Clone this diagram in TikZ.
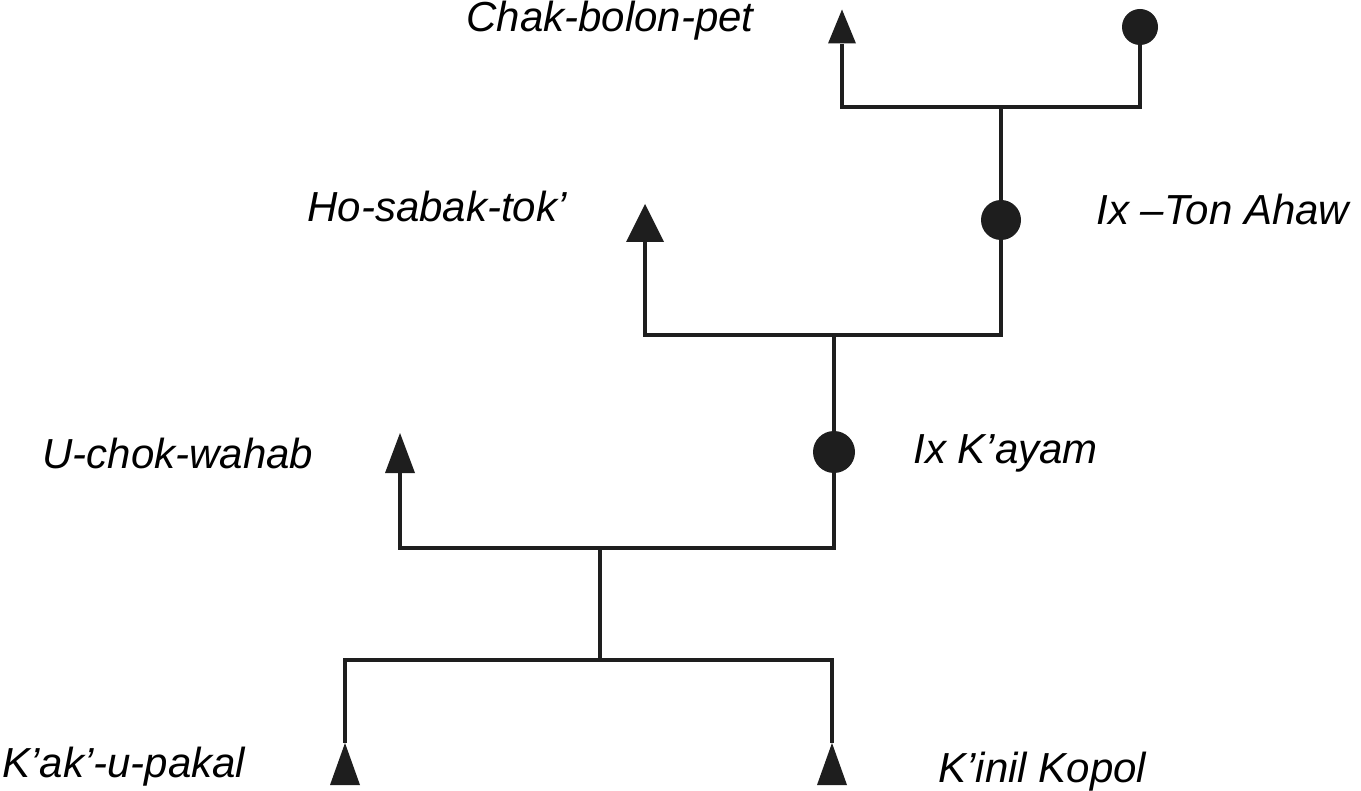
\documentclass[tikz,border=0pt]{standalone}
\usepackage{fontspec}
\setmainfont{Liberation Sans}
\definecolor{ink}{HTML}{1E1E1E}
\begin{document}
\begin{tikzpicture}[x=0.5pt,y=-0.5pt,
  conn/.style={draw=ink, line width=1.6pt, line join=miter},
  tri/.style={rectangle, inner sep=0pt, minimum width=15pt, minimum height=20pt,
    path picture={\fill[ink] (path picture bounding box.south west) -- (path picture bounding box.north) -- (path picture bounding box.south east) -- cycle;}},
  dot/.style={circle, fill=ink, inner sep=0pt, minimum size=20pt},
  lab/.style={anchor=base west, inner sep=0pt, text=black, font=\fontsize{21}{25}\selectfont\itshape}]
\useasboundingbox (0,0) rectangle (1361,791);
% persons
\node[tri, minimum width=14pt, minimum height=17pt] (t1) at (842,26.5) {};
\node[dot, minimum size=18pt] (c1) at (1140,27) {};
\coordinate (j1) at (1001,107);
\node[dot] (c2) at (1001,220) {};
\node[tri, minimum width=19pt, minimum height=19pt] (t2) at (645,223) {};
\coordinate (j2) at (834,335);
\node[dot, minimum size=21pt] (c3) at (834,452) {};
\node[tri] (t3) at (400,453) {};
\coordinate (j3) at (600,548);
\coordinate (j4) at (600,660);
\node[tri, minimum height=21pt] (t4) at (345,764) {};
\node[tri, minimum height=21pt] (t5) at (832,764) {};
% connectors
\draw[conn] (t1) |- (j1) -| (c1);
\draw[conn] (j1) -- (c2);
\draw[conn] (t2) |- (j2) -| (c2);
\draw[conn] (j2) -- (c3);
\draw[conn] (t3) |- (j3) -| (c3);
\draw[conn] (j3) -- (j4);
\draw[conn] (t4) |- (j4) -| (t5);
% labels
\node[lab] (l1) at (466,32) {Chak-bolon-pet};
\node[lab] (l2) at (307,222) {Ho-sabak-tok’};
\node[lab] (l3) at (1096,225) {Ix –Ton Ahaw};
\node[lab] (l4) at (42,468) {U-chok-wahab};
\node[lab] (l5) at (913,463) {Ix K’ayam};
\node[lab] (l6) at (2,777) {K’ak’-u-pakal};
\node[lab] (l7) at (938,782) {K’inil Kopol};
\end{tikzpicture}
\end{document}
